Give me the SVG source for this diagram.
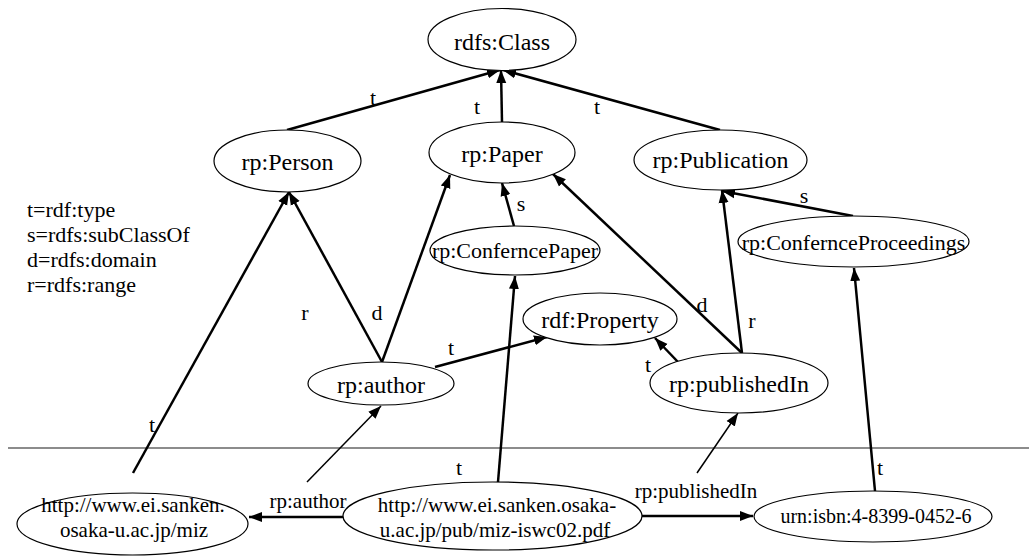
<svg xmlns="http://www.w3.org/2000/svg" width="1029" height="556" viewBox="0 0 1029 556" font-family="'Liberation Serif', 'Times New Roman', 'DejaVu Serif', serif">
<style>
.n ellipse{fill:#fff;stroke:#000;stroke-width:1.2}
text{font-family:'Liberation Serif','Times New Roman','DejaVu Serif',serif;fill:#000}
.nt{font-size:24px;text-anchor:middle}
.ns{font-size:22px;text-anchor:middle}
.nu{font-size:21px;text-anchor:middle}
.lb text{font-size:22px;text-anchor:middle}
.e line{stroke:#000;stroke-width:2.5;marker-end:url(#ah)}
.e line.thin{stroke-width:1.5}
</style>
<defs>
<marker id="ah" markerUnits="userSpaceOnUse" markerWidth="14" markerHeight="12" refX="13" refY="6" orient="auto"><path d="M0,1 L13,6 L0,11 z" fill="#000"/></marker>
</defs>
<rect width="1029" height="556" fill="#fff"/>
<line x1="8" y1="448" x2="1029" y2="448" stroke="#666" stroke-width="1.5"/>
<g id="legend" font-size="22">
<text x="27" y="217">t=rdf:type</text>
<text x="27" y="242">s=rdfs:subClassOf</text>
<text x="27" y="267">d=rdfs:domain</text>
<text x="27" y="292">r=rdfs:range</text>
</g>
<g id="edges" class="e">
<line x1="287" y1="130" x2="500" y2="70"/>
<line x1="502" y1="122" x2="501" y2="70"/>
<line x1="720" y1="130" x2="503" y2="70"/>
<line x1="514" y1="226" x2="502" y2="183"/>
<line x1="853" y1="216" x2="722" y2="191"/>
<line x1="382" y1="362" x2="289" y2="192"/>
<line x1="382" y1="362" x2="450" y2="175"/>
<line x1="133" y1="473" x2="289" y2="192"/>
<line x1="435" y1="367" x2="547" y2="337"/>
<line x1="678" y1="362" x2="655" y2="338"/>
<line x1="742" y1="353" x2="553" y2="174"/>
<line x1="742" y1="353" x2="722" y2="190"/>
<line x1="875" y1="491" x2="854" y2="268"/>
<line x1="498" y1="482" x2="515" y2="276"/>
<line x1="352" y1="517" x2="249" y2="517"/>
<line x1="642" y1="516" x2="753" y2="516"/>
<line class="thin" x1="307" y1="482" x2="381" y2="406"/>
<line class="thin" x1="697" y1="473" x2="738" y2="413"/>
</g>
<g id="edge-labels" class="lb">
<text x="373" y="105">t</text>
<text x="477" y="114">t</text>
<text x="597" y="114">t</text>
<text x="521" y="211">s</text>
<text x="804" y="203">s</text>
<text x="305" y="320">r</text>
<text x="377" y="320">d</text>
<text x="152" y="432">t</text>
<text x="451" y="355">t</text>
<text x="648" y="372">t</text>
<text x="702" y="312">d</text>
<text x="752" y="328">r</text>
<text x="880" y="475">t</text>
<text x="459" y="475">t</text>
<text x="308" y="508" style="font-size:21px">rp:author</text>
<text x="696" y="498" style="font-size:21px">rp:publishedIn</text>
</g>
<g id="n-class" class="n"><ellipse cx="502" cy="39.5" rx="74" ry="31"/><text class="nt" x="502" y="50">rdfs:Class</text></g>
<g id="n-person" class="n"><ellipse cx="287.5" cy="161" rx="73.5" ry="31"/><text class="nt" x="287.5" y="170">rp:Person</text></g>
<g id="n-paper" class="n"><ellipse cx="502" cy="152.5" rx="73" ry="30.5"/><text class="nt" x="502" y="162">rp:Paper</text></g>
<g id="n-publication" class="n"><ellipse cx="720.5" cy="160" rx="86.5" ry="30"/><text class="nt" x="720.5" y="168">rp:Publication</text></g>
<g id="n-confpaper" class="n"><ellipse cx="515" cy="250.5" rx="85" ry="24.5"/><text class="ns" x="515" y="258">rp:ConferncePaper</text></g>
<g id="n-confproc" class="n"><ellipse cx="853.5" cy="241.5" rx="115.5" ry="25.5"/><text class="ns" x="853.5" y="250">rp:ConfernceProceedings</text></g>
<g id="n-property" class="n"><ellipse cx="600" cy="319" rx="77" ry="26"/><text class="nt" x="600" y="328">rdf:Property</text></g>
<g id="n-author" class="n"><ellipse cx="381" cy="383.5" rx="73" ry="21.5"/><text class="nt" x="381" y="393">rp:author</text></g>
<g id="n-publishedin" class="n"><ellipse cx="739" cy="383" rx="89" ry="30"/><text class="nt" x="739" y="392">rp:publishedIn</text></g>
<g id="n-miz" class="n"><ellipse cx="132.5" cy="524" rx="115.5" ry="31"/><text class="nu" x="133" y="512">http://www.ei.sanken.</text><text class="nu" x="134" y="537">osaka-u.ac.jp/miz</text></g>
<g id="n-pdf" class="n"><ellipse cx="492.5" cy="516" rx="149.5" ry="34"/><text class="nu" x="497" y="512">http://www.ei.sanken.osaka-</text><text class="nu" x="495" y="537">u.ac.jp/pub/miz-iswc02.pdf</text></g>
<g id="n-urn" class="n"><ellipse cx="873" cy="516.5" rx="119" ry="25.5"/><text class="nu" x="876" y="523" style="font-size:20px">urn:isbn:4-8399-0452-6</text></g>
</svg>
